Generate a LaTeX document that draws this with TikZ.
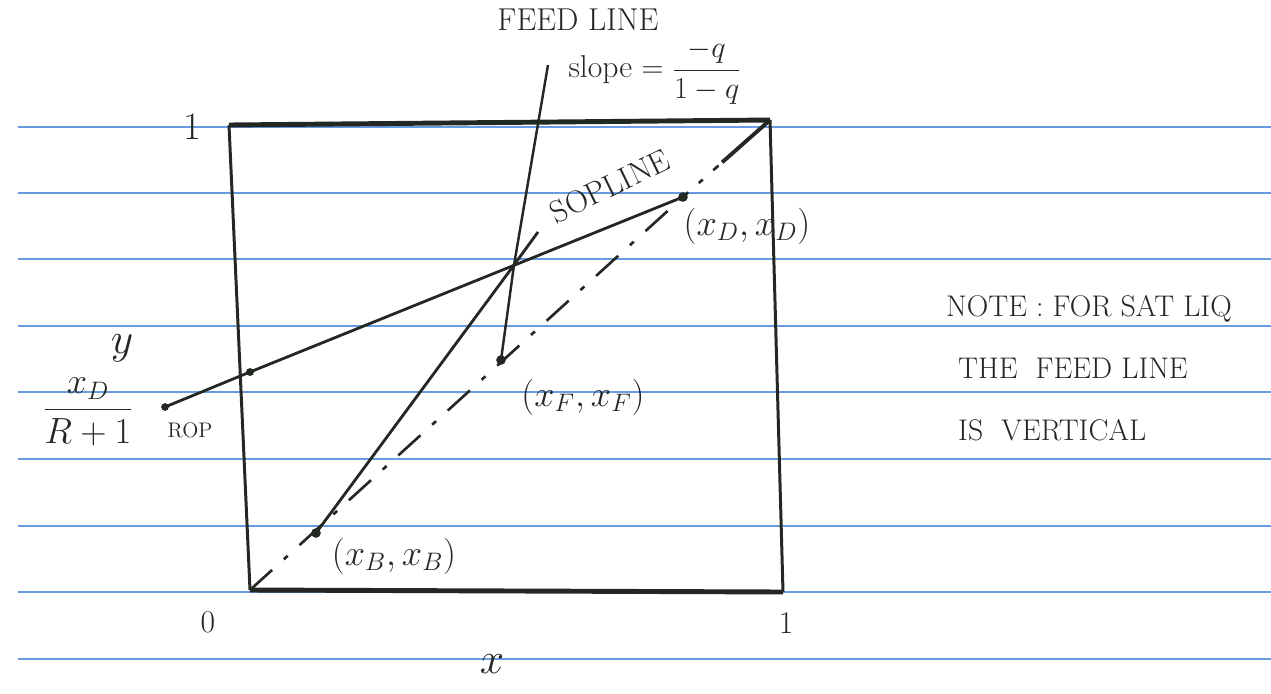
\documentclass[tikz,border=0pt]{standalone}
\usepackage{amsmath,amssymb}
\usepackage{xcolor}
\usetikzlibrary{calc}
\definecolor{ink}{RGB}{35,40,35}
\definecolor{ruling}{RGB}{105,155,225}

\begin{document}
\begin{tikzpicture}[x=0.02cm, y=-0.02cm,
  every node/.style={text=ink},
  dotpt/.style={circle, fill=ink, inner sep=0pt, minimum size=5.5pt},
  big/.style={font=\fontsize{22}{26}\selectfont},
  mid/.style={font=\fontsize{18}{22}\selectfont}]
  \useasboundingbox (0,0) rectangle (1271,693);
  % Ruled paper
  \foreach \y in {127,193,259,326,392,459,526,592,659}
    \draw[ruling, line width=1pt] (18,\y) -- (1271,\y);
  % Box
  \coordinate (O) at (250,590);
  \coordinate (TL) at (229,125);
  \coordinate (TR) at (770,120);
  \coordinate (BR) at (783,592);
  \draw[ink, line width=1.7pt] (TL) -- (O);
  \draw[ink, line width=1.7pt] (TR) -- (BR);
  \draw[ink, line width=2.8pt] (TL) -- (TR);
  \draw[ink, line width=2.8pt] (O) -- (BR);
  % Points
  \node[dotpt] (xd) at (683,197) {};
  \node[dotpt] (xf) at (501,360) {};
  \node[dotpt] (xb) at (316,533) {};
  \node[dotpt, minimum size=4.5pt] (yint) at (250,372) {};
  \coordinate (pint) at (514,265);
  \coordinate (feedtop) at (548,65);
  \coordinate (ropend) at (165,407);
  \coordinate (sopend) at (538,232);
  % Diagonal
  \draw[ink, line width=1.5pt, dash pattern=on 17pt off 9pt on 3pt off 9pt] (O) -- (xd.center);
  \draw[ink, line width=1.5pt, dash pattern=on 4pt off 8pt on 3pt off 8pt] (xd.center) -- ($(xd)!0.45!(TR)$);
  \draw[ink, line width=2.2pt] ($(xd)!0.45!(TR)$) -- (TR);
  % Operating lines
  \draw[ink, line width=1.6pt] (xd.center) -- (yint.center) -- (ropend);
  \fill[ink] (ropend) circle (2.2pt);
  \draw[ink, line width=1.6pt] (xb.center) -- (pint) -- (sopend);
  % Feed line
  \draw[ink, line width=1.4pt] (feedtop) -- (pint) -- (xf.center);
  % Labels
  \node[big] (one) at (192,127) {1};
  \node[mid] (zero) at (208,622) {0};
  \node[mid] (onex) at (786,623) {1};
  \node[font=\fontsize{46}{50}\selectfont] (xlab) at (492,664) {$x$};
  \node[font=\fontsize{40}{44}\selectfont] (ylab) at (122,348) {$y$};
  \node[big] (icept) at (88,412) {$\dfrac{x_D}{R+1}$};
  \node[font=\fontsize{12}{14}\selectfont] (rop) at (190,430) {ROP};
  \node[mid] (feed) at (578,20) {FEED LINE};
  \node[mid] (slope) at (655,72) {slope $=\dfrac{-q}{1-q}$};
  \node[mid, rotate=26, inner sep=0pt] (sop) at (610,186) {SOPLINE};
  \node[big] (lxd) at (747,226) {$(x_D,x_D)$};
  \node[big] (lxf) at (583,397) {$(x_F,x_F)$};
  \node[big] (lxb) at (394,556) {$(x_B,x_B)$};
  % Note
  \node[font=\fontsize{17}{20}\selectfont, anchor=base west] (note1) at (940,316) {NOTE : FOR SAT LIQ};
  \node[font=\fontsize{17}{20}\selectfont, anchor=base west] (note2) at (952,378) {THE \ FEED LINE};
  \node[font=\fontsize{17}{20}\selectfont, anchor=base west] (note3) at (952,440) {IS \ VERTICAL};
\end{tikzpicture}
\end{document}
